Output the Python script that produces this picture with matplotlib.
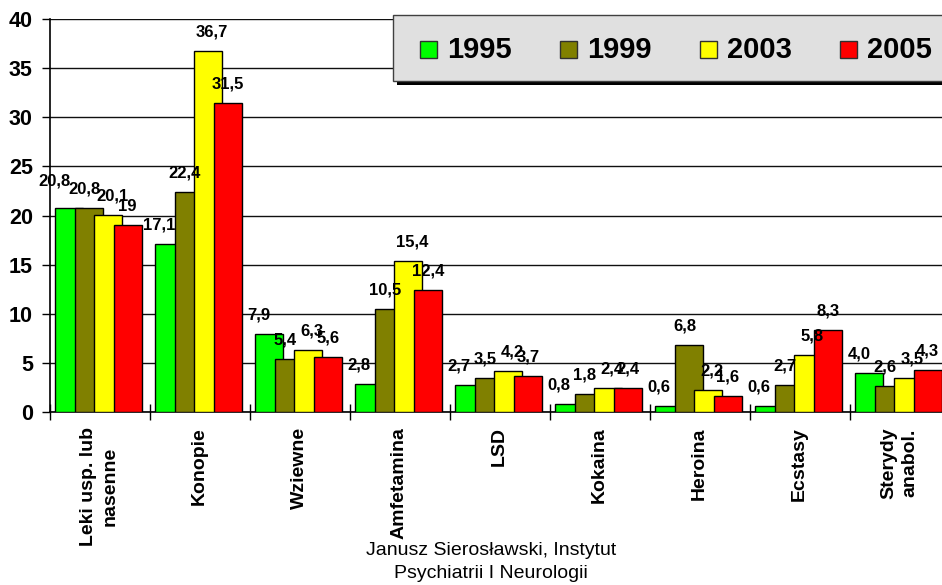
import numpy as np
import matplotlib
matplotlib.use("Agg")
import matplotlib.pyplot as plt
from matplotlib.patches import Rectangle

plt.rcParams['font.family'] = ['Liberation Sans', 'DejaVu Sans']

# Dane
kategorie = ["Leki usp. lub\nnasenne", "Konopie", "Wziewne", "Amfetamina", "LSD",
             "Kokaina", "Heroina", "Ecstasy", "Sterydy\nanabol."]
lata = ["1995", "1999", "2003", "2005"]
wartosci_1995 = ["20,8", "17,1", "7,9", "2,8", "2,7", "0,8", "0,6", "0,6", "4,0"]
wartosci_1999 = ["20,8", "22,4", "5,4", "10,5", "3,5", "1,8", "6,8", "2,7", "2,6"]
wartosci_2003 = ["20,1", "36,7", "6,3", "15,4", "4,2", "2,4", "2,2", "5,8", "3,5"]
wartosci_2005 = ["19", "31,5", "5,6", "12,4", "3,7", "2,4", "1,6", "8,3", "4,3"]
y_ticks = [0, 5, 10, 15, 20, 25, 30, 35, 40]

serie = [wartosci_1995, wartosci_1999, wartosci_2003, wartosci_2005]
kolory = ["#00ff00", "#808000", "#ffff00", "#ff0000"]
dx_etykiet = [-10, -4, 4, 0]  # przesuniecie etykiet [px]

W, H = 942, 585
fig = plt.figure(figsize=(W / 100, H / 100), dpi=100)

def fx(x):
    return x / W

def fy(y):
    return 1 - y / H

# Obszar wykresu (prawa krawedz poza obrazkiem, jak w oryginale)
ax = fig.add_axes([fx(49.5), fy(412), fx(900), 393 / H])

x = np.arange(len(kategorie))
szer = 0.28
krok = 0.195
for i, (s, kol) in enumerate(zip(serie, kolory)):
    vals = np.array([float(v.replace(",", ".")) for v in s])
    pos = x - 0.443 + i * krok + szer / 2
    ax.bar(pos, vals, width=szer, color=kol, edgecolor="black", linewidth=1, zorder=3)
    for j, (p, v, t) in enumerate(zip(pos, vals, s)):
        dx, dy = dx_etykiet[i], 19
        if i == 0 and j == 0:
            dx, dy = -15, 27  # pierwsza etykieta przesunieta w oryginale
        ax.annotate(t, (p, v), xytext=(dx, dy), textcoords="offset pixels",
                    ha="center", va="center", fontsize=12, fontweight="bold", zorder=5)

ax.set_xlim(-0.5, len(kategorie) - 0.5)
ax.set_ylim(0, 40)
ax.set_yticks(y_ticks)
ax.set_yticklabels([str(t) for t in y_ticks], fontsize=15.5, fontweight="bold")
ax.tick_params(axis="y", direction="out", length=6, width=1, pad=6)
ax.yaxis.grid(True, color="#101010", linewidth=1, zorder=0)

ax.set_xticks(np.arange(len(kategorie) + 1) - 0.5)
ax.set_xticklabels([])
ax.tick_params(axis="x", which="major", direction="inout", length=12, width=1)
ax.set_xticks(x, minor=True)
ax.set_xticklabels(kategorie, minor=True, rotation=90, fontsize=14, fontweight="bold",
                   linespacing=1.35)
ax.tick_params(axis="x", which="minor", length=0, pad=11)
for lab in ax.get_xticklabels(minor=True):
    lab.set_multialignment("center")

for k in ["top", "right"]:
    ax.spines[k].set_visible(False)
ax.spines["left"].set_linewidth(1.2)
ax.spines["bottom"].set_linewidth(1.2)

# Legenda (recznie, z cieniem)
fig.patches.append(Rectangle((fx(397), fy(85)), fx(600), 66 / H, transform=fig.transFigure,
                             facecolor="black", edgecolor="none", zorder=10))
fig.patches.append(Rectangle((fx(393), fy(81)), fx(600), 66 / H, transform=fig.transFigure,
                             facecolor="#e0e0e0", edgecolor="#404040", linewidth=1, zorder=11))
for i, (rok, kol) in enumerate(zip(lata, kolory)):
    x0 = 420 + i * 140
    fig.patches.append(Rectangle((fx(x0), fy(58)), fx(17), 17 / H, transform=fig.transFigure,
                                 facecolor=kol, edgecolor="#303030", linewidth=1, zorder=12))
    fig.text(fx(x0 + 27), fy(49.5), rok, fontsize=21, fontweight="bold",
             ha="left", va="center", zorder=13)

fig.text(fx(491), fy(562), "Janusz Sierosławski, Instytut\nPsychiatrii I Neurologii",
         fontsize=14, ha="center", va="center", linespacing=1.4)

fig.savefig("out.png", dpi=100)
